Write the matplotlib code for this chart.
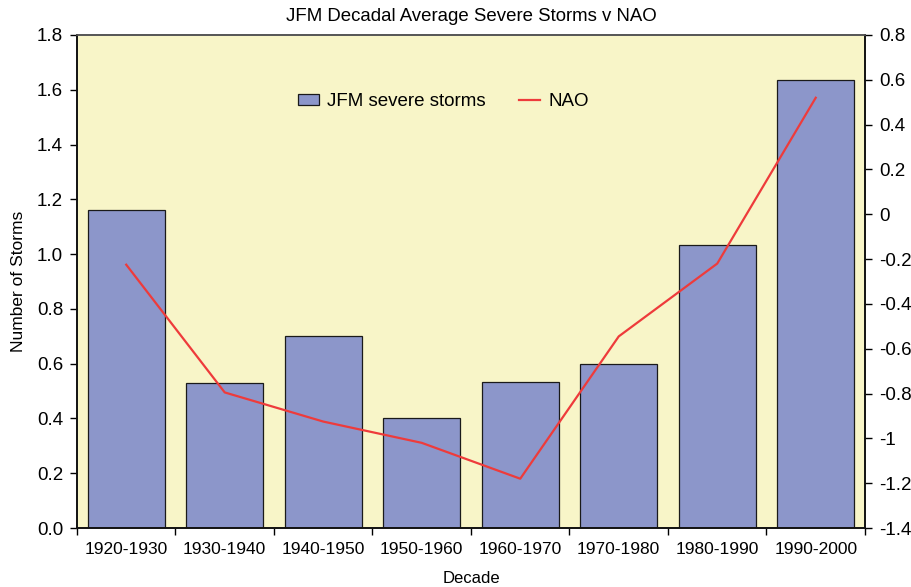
import matplotlib
matplotlib.use("Agg")
import matplotlib.pyplot as plt
from matplotlib.ticker import FixedLocator, NullFormatter, FixedFormatter
import numpy as np

plt.rcParams['font.family'] = ['Liberation Sans', 'DejaVu Sans']

decades = ["1920-1930", "1930-1940", "1940-1950", "1950-1960",
           "1960-1970", "1970-1980", "1980-1990", "1990-2000"]
storms = [1.16, 0.53, 0.70, 0.40, 0.533, 0.60, 1.035, 1.635]
nao = [-0.225, -0.795, -0.925, -1.02, -1.18, -0.545, -0.22, 0.52]

left_ticks = [0.0, 0.2, 0.4, 0.6, 0.8, 1.0, 1.2, 1.4, 1.6, 1.8]
right_ticks = [-1.4, -1.2, -1.0, -0.8, -0.6, -0.4, -0.2, 0.0, 0.2, 0.4, 0.6, 0.8]
right_labels = ["-1.4", "-1.2", "-1", "-0.8", "-0.6", "-0.4", "-0.2", "0",
                "0.2", "0.4", "0.6", "0.8"]

fig = plt.figure(figsize=(9.11, 5.87), dpi=100)
ax = fig.add_axes([0.0845, 0.1005, 0.865, 0.8399])
ax.set_facecolor("#F8F5C8")

x = np.arange(len(decades))
ax.bar(x, storms, width=0.78, color="#8C96CA", edgecolor="#1a1a1a",
       linewidth=0.9, label="JFM severe storms", zorder=2)
ax.set_xlim(-0.5, len(decades) - 0.5)
ax.set_ylim(0, 1.8)
ax.yaxis.set_major_locator(FixedLocator(left_ticks))
ax.set_yticklabels([f"{v:.1f}" for v in left_ticks])
ax.xaxis.set_major_locator(FixedLocator(np.arange(len(decades) + 1) - 0.5))
ax.xaxis.set_major_formatter(NullFormatter())
ax.xaxis.set_minor_locator(FixedLocator(x))
ax.xaxis.set_minor_formatter(FixedFormatter(decades))
ax.tick_params(axis="x", which="minor", length=0, labelsize=12.5, pad=10)
ax.tick_params(axis="x", which="major", length=5, width=1, direction="out")
ax.tick_params(axis="y", length=5, width=1, direction="out", labelsize=13.5, pad=5)

ax2 = ax.twinx()
ax2.plot(x, nao, color="#EE3B3B", linewidth=1.6, label="NAO", zorder=3)
ax2.set_ylim(-1.4, 0.8)
ax2.yaxis.set_major_locator(FixedLocator(right_ticks))
ax2.set_yticklabels(right_labels)
ax2.tick_params(axis="y", length=5, width=1, direction="out", labelsize=13.5, pad=5)

for a in (ax, ax2):
    for side in ("left", "right", "bottom"):
        a.spines[side].set_linewidth(1.2)
        a.spines[side].set_color("#111111")
    a.spines["top"].set_linewidth(1.2)
    a.spines["top"].set_color("#555555")

ax.set_title("JFM Decadal Average Severe Storms v NAO", fontsize=13.4, pad=10)
ax.set_ylabel("Number of Storms", fontsize=12.5, labelpad=8)
ax.set_xlabel("Decade", fontsize=12, labelpad=10)

h1, l1 = ax.get_legend_handles_labels()
h2, l2 = ax2.get_legend_handles_labels()
ax2.legend(h1 + h2, l1 + l2, loc="center", bbox_to_anchor=(0.465, 0.865),
           ncol=2, frameon=False, fontsize=13.5, columnspacing=1.8,
           handlelength=1.12, handleheight=0.55, handletextpad=0.43)

fig.savefig("out.png", dpi=100)
